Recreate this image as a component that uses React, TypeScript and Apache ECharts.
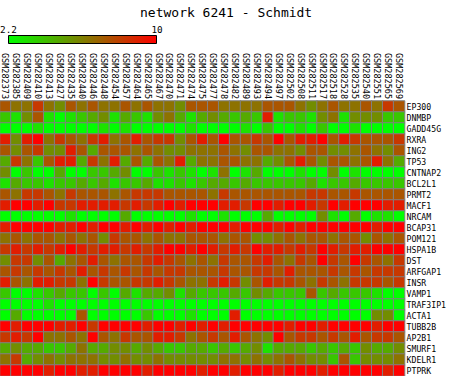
import React, { useEffect, useRef } from "react";
import * as echarts from "echarts";

const samples = ["GSM282373","GSM282385","GSM282409","GSM282410","GSM282413","GSM282427","GSM282435","GSM282440","GSM282446","GSM282448","GSM282454","GSM282457","GSM282464","GSM282465","GSM282467","GSM282470","GSM282471","GSM282474","GSM282475","GSM282477","GSM282478","GSM282482","GSM282489","GSM282493","GSM282494","GSM282497","GSM282502","GSM282508","GSM282511","GSM282517","GSM282518","GSM282528","GSM282535","GSM282540","GSM282551","GSM282565","GSM282569"];

const genes = ["EP300","DNMBP","GADD45G","RXRA","ING2","TP53","CNTNAP2","BCL2L1","PRMT2","MACF1","NRCAM","BCAP31","POM121","HSPA1B","DST","ARFGAP1","INSR","VAMP1","TRAF3IP1","ACTA1","TUBB2B","AP2B1","SMURF1","KDELR1","PTPRK"];

const EP300 = [7.4,6.5,6.5,8.3,6.5,5.7,7.4,6.5,7.4,6.5,6.5,7.4,6.5,7.4,6.5,6.5,5.7,7.4,7.4,7.4,6.5,6.5,6.5,6.5,7.4,7.4,7.4,6.5,5.7,6.5,7.4,6.5,6.5,7.4,6.5,8.3,7.4];
const DNMBP = [3.9,3.1,5.7,7.4,3.1,2.2,3.1,3.9,4.8,5.7,3.1,4.8,3.9,3.1,5.7,6.5,4.8,3.1,4.8,5.7,4.8,3.9,4.8,3.9,9.1,3.1,3.9,3.9,3.1,5.7,6.5,3.1,5.7,5.7,5.7,3.9,3.9];
const GADD45G = [2.2,2.2,2.2,3.1,2.2,2.2,2.2,2.2,2.2,3.1,2.2,3.1,2.2,2.2,2.2,2.2,2.2,3.1,2.2,2.2,2.2,2.2,3.1,2.2,3.9,2.2,2.2,3.1,2.2,3.9,2.2,2.2,3.1,2.2,2.2,2.2,2.2];
const RXRA = [9.1,5.7,9.1,10,6.5,8.3,7.4,6.5,8.3,9.1,6.5,7.4,9.1,7.4,8.3,8.3,5.7,7.4,9.1,7.4,10,7.4,7.4,8.3,7.4,10,7.4,9.1,9.1,10,7.4,9.1,8.3,7.4,7.4,7.4,8.3];
const ING2 = [7.4,5.7,7.4,8.3,5.7,5.7,9.1,7.4,4.8,7.4,7.4,7.4,6.5,7.4,6.5,5.7,5.7,6.5,6.5,6.5,7.4,6.5,5.7,7.4,7.4,6.5,6.5,5.7,7.4,7.4,5.7,5.7,6.5,7.4,6.5,5.7,7.4];
const TP53 = [4.8,8.3,6.5,3.9,7.4,9.1,9.1,4.8,8.3,6.5,9.1,4.8,7.4,4.8,7.4,6.5,9.1,4.8,6.5,6.5,7.4,7.4,6.5,6.5,4.8,5.7,7.4,9.1,7.4,5.7,7.4,7.4,6.5,7.4,9.1,6.5,4.8];
const CNTNAP2 = [5.7,2.2,3.9,2.2,2.2,4.8,2.2,2.2,3.9,3.9,4.8,5.7,2.2,2.2,3.9,3.1,3.9,3.1,2.2,3.1,6.5,2.2,3.1,4.8,2.2,2.2,2.2,3.1,2.2,2.2,5.7,2.2,3.1,2.2,2.2,2.2,2.2];
const BCL2L1 = [3.1,4.8,3.9,3.9,3.1,3.9,3.9,4.8,3.9,4.8,3.1,3.9,3.9,4.8,3.1,3.1,3.9,3.1,3.9,4.8,4.8,3.9,4.8,3.9,3.9,3.9,3.9,3.9,4.8,3.1,3.9,3.9,4.8,3.9,3.9,3.9,3.9];
const PRMT2 = [7.4,6.5,8.3,8.3,7.4,6.5,8.3,7.4,7.4,7.4,6.5,7.4,8.3,8.3,8.3,7.4,7.4,7.4,7.4,6.5,8.3,7.4,7.4,7.4,7.4,7.4,7.4,7.4,8.3,8.3,7.4,7.4,8.3,7.4,7.4,7.4,7.4];
const MACF1 = [9.1,10,10,9.1,10,8.3,8.3,9.1,9.1,9.1,9.1,8.3,9.1,8.3,9.1,10,9.1,10,10,10,9.1,9.1,8.3,10,10,9.1,10,10,9.1,8.3,10,9.1,10,10,10,9.1,9.1];
const NRCAM = [2.2,2.2,2.2,2.2,2.2,2.2,3.1,2.2,2.2,2.2,2.2,4.8,2.2,2.2,2.2,2.2,2.2,3.1,2.2,2.2,3.1,2.2,2.2,2.2,4.8,2.2,2.2,2.2,2.2,5.7,3.1,2.2,4.8,2.2,3.1,3.1,2.2];
const BCAP31 = [9.1,10,10,10,10,9.1,9.1,10,9.1,10,10,9.1,10,9.1,10,9.1,10,9.1,10,10,10,9.1,10,10,10,9.1,10,9.1,10,10,10,10,10,10,9.1,10,10];
const POM121 = [6.5,7.4,6.5,7.4,7.4,6.5,7.4,6.5,7.4,5.7,8.3,7.4,7.4,6.5,7.4,6.5,6.5,7.4,7.4,7.4,6.5,7.4,7.4,5.7,5.7,6.5,7.4,6.5,7.4,7.4,6.5,7.4,7.4,5.7,7.4,6.5,7.4];
const HSPA1B = [8.3,9.1,8.3,9.1,8.3,9.1,10,9.1,8.3,9.1,9.1,8.3,9.1,8.3,9.1,10,10,9.1,10,9.1,8.3,9.1,8.3,10,9.1,9.1,8.3,9.1,8.3,10,9.1,8.3,9.1,9.1,10,10,10];
const DST = [5.7,8.3,8.3,5.7,7.4,4.8,6.5,7.4,9.1,7.4,6.5,7.4,7.4,8.3,9.1,8.3,7.4,6.5,7.4,6.5,8.3,7.4,7.4,8.3,9.1,7.4,6.5,8.3,7.4,10,8.3,7.4,10,8.3,7.4,6.5,8.3];
const ARFGAP1 = [7.4,8.3,7.4,8.3,7.4,8.3,7.4,9.1,7.4,8.3,7.4,8.3,7.4,8.3,7.4,8.3,8.3,7.4,7.4,7.4,8.3,7.4,7.4,8.3,8.3,7.4,9.1,7.4,7.4,7.4,8.3,7.4,8.3,7.4,8.3,8.3,8.3];
const INSR = [9.1,7.4,6.5,9.1,9.1,8.3,8.3,6.5,10,8.3,7.4,7.4,8.3,8.3,9.1,8.3,7.4,6.5,6.5,8.3,9.1,8.3,5.7,7.4,9.1,8.3,8.3,7.4,6.5,8.3,7.4,6.5,8.3,8.3,8.3,7.4,8.3];
const VAMP1 = [3.9,2.2,2.2,3.1,3.9,4.8,3.9,3.9,2.2,3.9,2.2,4.8,3.1,4.8,4.8,5.7,3.1,4.8,3.9,3.9,3.9,4.8,3.9,5.7,4.8,3.9,3.9,3.9,7.4,3.9,4.8,3.9,3.9,3.9,3.1,2.2,2.2];
const TRAF3IP1 = [2.2,2.2,2.2,2.2,3.1,2.2,2.2,2.2,2.2,2.2,2.2,2.2,2.2,2.2,2.2,2.2,2.2,2.2,2.2,2.2,2.2,2.2,2.2,2.2,2.2,2.2,2.2,2.2,2.2,2.2,2.2,2.2,2.2,2.2,2.2,2.2,2.2];
const ACTA1 = [2.2,4.8,2.2,2.2,2.2,2.2,2.2,7.4,2.2,2.2,2.2,2.2,2.2,3.9,2.2,2.2,2.2,3.1,2.2,2.2,2.2,9.1,2.2,2.2,2.2,2.2,2.2,2.2,2.2,2.2,2.2,2.2,2.2,2.2,5.7,5.7,2.2];
const TUBB2B = [10,9.1,10,10,10,9.1,9.1,10,8.3,10,10,10,10,9.1,10,10,9.1,10,9.1,10,9.1,10,10,10,10,10,9.1,10,10,9.1,10,10,10,10,9.1,10,10];
const AP2B1 = [8.3,9.1,8.3,10,6.5,6.5,7.4,6.5,10,7.4,6.5,8.3,7.4,7.4,9.1,9.1,8.3,6.5,7.4,8.3,7.4,9.1,7.4,6.5,5.7,10,7.4,8.3,8.3,7.4,8.3,7.4,9.1,7.4,8.3,8.3,7.4];
const SMURF1 = [4.8,5.7,4.8,4.8,3.9,3.9,4.8,6.5,4.8,4.8,5.7,5.7,4.8,5.7,4.8,3.9,3.9,4.8,4.8,3.9,4.8,3.9,4.8,5.7,3.1,4.8,4.8,4.8,3.9,4.8,3.9,4.8,3.9,5.7,4.8,4.8,5.7];
const KDELR1 = [6.5,8.3,4.8,5.7,6.5,5.7,6.5,6.5,6.5,5.7,5.7,6.5,5.7,5.7,6.5,5.7,5.7,5.7,5.7,5.7,6.5,6.5,5.7,6.5,5.7,6.5,7.4,6.5,5.7,5.7,3.9,7.4,3.9,5.7,5.7,5.7,6.5];
const PTPRK = [10,10,10,10,9.1,10,10,9.1,9.1,10,10,10,10,9.1,10,10,10,10,9.1,10,10,9.1,10,10,10,9.1,10,10,10,9.1,10,10,10,10,10,9.1,10];

const rows = [EP300,DNMBP,GADD45G,RXRA,ING2,TP53,CNTNAP2,BCL2L1,PRMT2,MACF1,NRCAM,BCAP31,POM121,HSPA1B,DST,ARFGAP1,INSR,VAMP1,TRAF3IP1,ACTA1,TUBB2B,AP2B1,SMURF1,KDELR1,PTPRK];

const scaleMin = 2.2;
const scaleMax = 10;
const scaleLabels = ["2.2", "10"];
const title = "network 6241 - Schmidt";

const MONO = "'DejaVu Sans Mono', 'Liberation Mono', monospace";

export default function App() {
  const ref = useRef<HTMLDivElement>(null);
  useEffect(() => {
    if (!ref.current) return;
    const chart = echarts.init(ref.current, undefined, { renderer: "svg" });
    const data: [number, number, number][] = [];
    rows.forEach((r, y) => r.forEach((v, x) => data.push([x, y, v])));
    chart.setOption({
      animation: false,
      backgroundColor: "#ffffff",
      title: {
        text: title,
        left: 135,
        top: 1,
        textStyle: { fontFamily: MONO, fontSize: 13, fontWeight: "normal", color: "#000" },
      },
      grid: { left: 0, top: 101, width: 407, height: 275, containLabel: false },
      xAxis: {
        type: "category",
        data: samples,
        position: "top",
        axisLine: { show: false },
        axisTick: { show: false },
        splitArea: { show: false },
        axisLabel: { rotate: 90, interval: 0, fontFamily: MONO, fontSize: 8.5, color: "#000", margin: 2 },
      },
      yAxis: {
        type: "category",
        data: genes,
        inverse: true,
        position: "right",
        axisLine: { show: false },
        axisTick: { show: false },
        splitArea: { show: false },
        axisLabel: { interval: 0, fontFamily: MONO, fontSize: 8.2, color: "#000", margin: 2 },
      },
      visualMap: {
        show: false,
        min: scaleMin,
        max: scaleMax,
        inRange: { color: ["#00ff00", "#ff0000"] },
      },
      graphic: [
        {
          type: "rect",
          shape: { x: 8.5, y: 35.5, width: 148, height: 8 },
          style: {
            fill: new echarts.graphic.LinearGradient(0, 0, 1, 0, [
              { offset: 0, color: "#00ff00" },
              { offset: 1, color: "#ff0000" },
            ]),
            stroke: "#000",
            lineWidth: 1,
          },
        },
        {
          type: "text",
          x: 8.5,
          y: 34,
          style: { text: scaleLabels[0], font: `9.3px ${MONO}`, fill: "#000", textAlign: "center", textVerticalAlign: "bottom" },
        },
        {
          type: "text",
          x: 157,
          y: 34,
          style: { text: scaleLabels[1], font: `9.3px ${MONO}`, fill: "#000", textAlign: "center", textVerticalAlign: "bottom" },
        },
      ],
      series: [
        {
          type: "heatmap",
          data,
          itemStyle: { borderColor: "#808080", borderWidth: 1 },
          emphasis: { disabled: true },
        },
      ],
    });
    return () => chart.dispose();
  }, []);
  return (
    <div
      ref={ref}
      style={{ position: "absolute", left: 0, top: 0, width: 449, height: 376, background: "#fff" }}
    />
  );
}
